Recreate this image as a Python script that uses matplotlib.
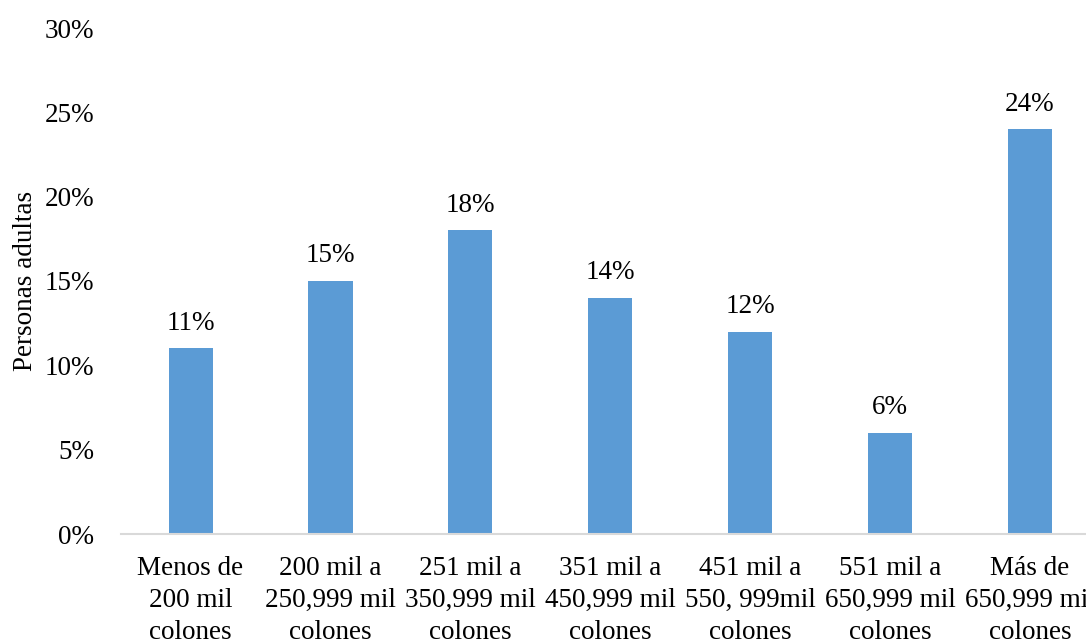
import matplotlib
matplotlib.use("Agg")
import matplotlib.pyplot as plt
from matplotlib.ticker import FuncFormatter, MultipleLocator

categories = [
    "Menos de\n200 mil\ncolones",
    "200 mil a\n250,999 mil\ncolones",
    "251 mil a\n350,999 mil\ncolones",
    "351 mil a\n450,999 mil\ncolones",
    "451 mil a\n550, 999mil\ncolones",
    "551 mil a\n650,999 mil\ncolones",
    "Más de\n650,999 mil\ncolones",
]
values = [11, 15, 18, 14, 12, 6, 24]
value_labels = ["11%", "15%", "18%", "14%", "12%", "6%", "24%"]

plt.rcParams['font.family'] = ['Liberation Serif', 'DejaVu Serif']
FS = 19.5

fig = plt.figure(figsize=(10.86, 6.44), dpi=100)
ax = fig.add_axes([120.6/1086, 1 - 534/644, 979.4/1086, 506/644])

x = list(range(len(values)))
ax.bar(x, values, width=0.315, color="#5B9BD5", zorder=2)

for xi, v, lab in zip(x, values, value_labels):
    ax.annotate(lab, (xi, v), xytext=(0, 9), textcoords="offset points",
                ha="center", va="bottom", fontsize=FS, color="#000000")

ax.set_xlim(-0.5, len(values) - 0.5)
ax.set_ylim(0, 30)
ax.yaxis.set_major_locator(MultipleLocator(5))
ax.yaxis.set_major_formatter(FuncFormatter(lambda v, p: f"{v:.0f}%"))
ax.set_xticks(x)
ax.set_xticklabels(categories, fontsize=FS, linespacing=1.35)
ax.tick_params(axis="y", labelsize=FS, length=0, pad=19)
ax.tick_params(axis="x", length=0, pad=16)

for s in ["top", "right", "left"]:
    ax.spines[s].set_visible(False)
ax.spines["bottom"].set_color("#D9D9D9")
ax.spines["bottom"].set_linewidth(1.5)

ax.set_ylabel("Personas adultas", fontsize=FS)
ax.yaxis.set_label_coords(-0.084, 0.5)

fig.savefig("out.png", dpi=100)
